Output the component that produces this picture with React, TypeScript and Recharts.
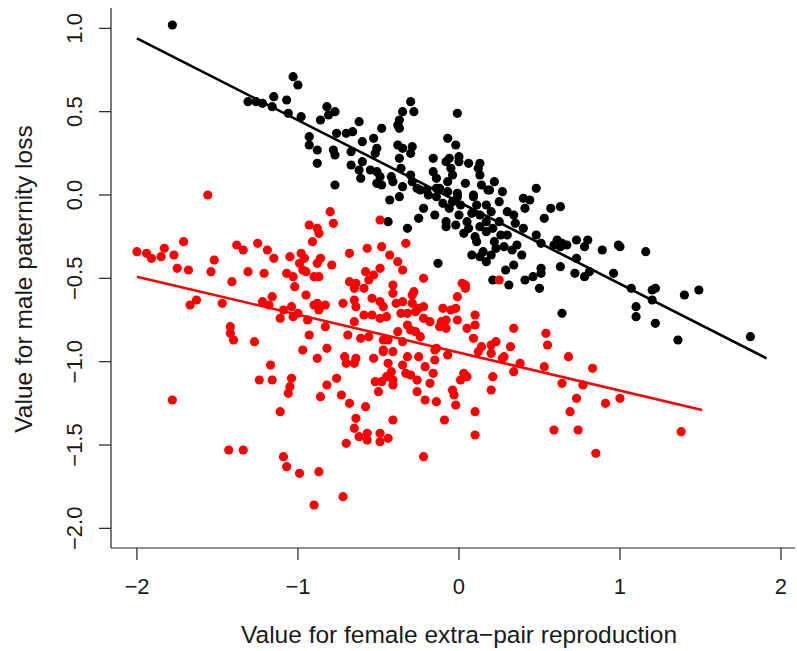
import React from "react";
import { ScatterChart, Scatter, XAxis, YAxis, ReferenceLine } from "recharts";

// [female extra-pair reproduction, male paternity loss]
const blackPoints: number[][] = [
  [-1.78, 1.02], [-1.03, 0.71], [-1.0, 0.66], [-1.31, 0.56], [-1.26, 0.56], [-1.22, 0.55], [-1.16, 0.53],
  [-1.15, 0.59], [-1.07, 0.57], [-1.06, 0.49], [-0.98, 0.47], [-0.82, 0.53], [-0.77, 0.5], [-0.81, 0.48],
  [-0.86, 0.45], [-0.76, 0.37], [-0.93, 0.35], [-0.93, 0.3], [-0.88, 0.27], [-0.78, 0.27], [-0.77, 0.24],
  [-0.88, 0.19], [-0.77, 0.06],
  [-0.3, 0.56], [-0.35, 0.5], [-0.28, 0.5], [-0.01, 0.49], [-0.62, 0.44], [-0.37, 0.45], [-0.38, 0.42],
  [-0.37, 0.4], [-0.48, 0.4], [-0.66, 0.38], [-0.53, 0.34], [-0.6, 0.32], [-0.7, 0.37], [-0.07, 0.34],
  [-0.02, 0.3], [-0.38, 0.3], [-0.35, 0.28], [-0.29, 0.29], [-0.3, 0.25], [-0.51, 0.28], [-0.52, 0.25],
  [-0.67, 0.26], [-0.67, 0.18], [-0.6, 0.2], [-0.62, 0.15], [-0.37, 0.22], [-0.36, 0.16], [-0.16, 0.22],
  [-0.08, 0.2], [-0.06, 0.22], [0.0, 0.23], [0.0, 0.2], [0.06, 0.19], [0.13, 0.19], [0.12, 0.16],
  [-0.05, 0.16], [-0.04, 0.12], [-0.16, 0.14], [-0.14, 0.1], [-0.07, 0.08], [0.04, 0.07], [0.13, 0.12],
  [0.14, 0.06], [0.22, 0.08], [0.19, 0.03], [0.27, 0.02], [0.48, 0.04], [-0.55, 0.15], [-0.51, 0.14],
  [-0.49, 0.11], [-0.61, 0.1], [-0.51, 0.07], [-0.48, 0.06], [-0.42, 0.11], [-0.41, 0.08], [-0.35, 0.05],
  [-0.3, 0.12], [-0.29, 0.08], [-0.26, 0.04], [-0.2, 0.03], [-0.14, 0.04], [-0.01, 0.01], [0.09, 0.0],
  [-0.43, -0.03], [-0.37, -0.01], [-0.44, -0.16], [-0.32, -0.2], [-0.25, -0.14], [-0.22, -0.08],
  [-0.24, 0.03], [-0.19, 0.0], [-0.14, -0.01], [-0.15, -0.12], [-0.08, -0.16], [-0.08, -0.19],
  [-0.02, -0.18], [-0.06, -0.08], [0.01, -0.06], [0.03, -0.23], [-0.01, -0.01], [-0.07, 0.02],
  [0.09, -0.01], [0.11, -0.06], [0.08, -0.11], [0.13, -0.12], [0.11, -0.28], [0.08, -0.36], [0.13, -0.37],
  [0.17, -0.4], [0.15, -0.34], [0.18, 0.03], [0.17, -0.06], [0.17, -0.16], [0.17, -0.22], [0.21, -0.2],
  [0.22, -0.28], [0.23, -0.32], [0.25, -0.04], [0.3, -0.1], [0.34, -0.12], [0.3, -0.24], [0.28, -0.31],
  [0.33, -0.33], [0.36, -0.3], [0.39, -0.36], [0.34, -0.42], [0.29, -0.45], [0.21, -0.51], [0.31, -0.54],
  [0.4, -0.02], [0.44, -0.03], [0.41, -0.08], [0.35, -0.17], [0.4, -0.2], [0.57, -0.08], [0.63, -0.07],
  [0.53, -0.14], [0.48, -0.24], [0.51, -0.29], [0.61, -0.27], [0.63, -0.31], [0.59, -0.3], [0.51, -0.44],
  [0.51, -0.47], [0.46, -0.49], [0.41, -0.51], [0.5, -0.56], [0.63, -0.43], [0.64, -0.71], [-0.13, -0.41],
  [-0.12, 0.04], [-0.04, -0.04], [0.13, -0.19], [0.05, -0.16], [0.0, -0.12], [0.06, -0.2], [-0.1, -0.05],
  [0.2, -0.1], [0.25, -0.16], [0.1, -0.25], [0.26, -0.24], [0.2, -0.36],
  [0.64, -0.29], [0.67, -0.3], [0.73, -0.27], [0.8, -0.27], [0.78, -0.31], [0.89, -0.33], [0.99, -0.3],
  [1.0, -0.31], [1.16, -0.34], [0.73, -0.38], [0.72, -0.47], [0.78, -0.49], [0.81, -0.46], [0.96, -0.47],
  [1.07, -0.56], [1.2, -0.57], [1.22, -0.56], [1.2, -0.63], [1.1, -0.67], [1.1, -0.73], [1.22, -0.77],
  [1.4, -0.6], [1.49, -0.57], [1.36, -0.87], [1.81, -0.85],
];

const redPoints: number[][] = [
  [-1.56, 0.0], [-2.0, -0.34], [-1.94, -0.35], [-1.91, -0.38], [-1.85, -0.37], [-1.83, -0.32], [-1.77, -0.36],
  [-1.71, -0.28], [-1.75, -0.44], [-1.68, -0.45], [-1.52, -0.39], [-1.54, -0.46], [-1.41, -0.52], [-1.38, -0.3],
  [-1.34, -0.33], [-1.31, -0.46], [-1.25, -0.29], [-1.19, -0.33], [-1.15, -0.38], [-1.21, -0.47], [-1.05, -0.37],
  [-1.07, -0.47], [-1.03, -0.49], [-1.02, -0.55], [-0.98, -0.35], [-0.96, -0.38], [-0.99, -0.41], [-0.97, -0.45],
  [-0.95, -0.46], [-0.93, -0.18], [-0.88, -0.2], [-0.87, -0.23], [-0.91, -0.28], [-0.8, -0.1], [-0.78, -0.17],
  [-0.86, -0.38], [-0.88, -0.41], [-0.79, -0.42], [-0.9, -0.49], [-0.87, -0.49], [-0.68, -0.35], [-0.68, -0.52],
  [-0.95, -0.6], [-1.16, -0.61], [-1.22, -0.64], [-1.18, -0.66], [-1.47, -0.65], [-1.67, -0.66], [-1.63, -0.63],
  [-1.09, -0.69], [-1.04, -0.67], [-1.11, -0.74], [-1.03, -0.73], [-1.0, -0.71], [-0.94, -0.75], [-0.9, -0.66],
  [-0.88, -0.65], [-0.87, -0.69], [-0.83, -0.66], [-0.72, -0.65], [-0.83, -0.79], [-0.93, -0.84], [-0.69, -0.84],
  [-1.42, -0.79], [-1.42, -0.83], [-1.4, -0.87], [-1.27, -0.88], [-0.97, -0.93], [-0.82, -0.92], [-0.88, -0.98],
  [-0.71, -0.97],
  [-1.78, -1.23], [-1.17, -1.02], [-1.24, -1.11], [-1.16, -1.11], [-1.04, -1.1], [-1.05, -1.15], [-1.06, -1.19],
  [-1.11, -1.3], [-0.7, -1.01], [-0.76, -1.1], [-0.82, -1.14], [-0.73, -1.2], [-0.86, -1.21], [-0.68, -1.25],
  [-0.7, -1.49], [-1.43, -1.53], [-1.34, -1.53], [-1.09, -1.57], [-1.07, -1.63], [-0.99, -1.67], [-0.87, -1.66],
  [-0.72, -1.81], [-0.9, -1.86],
  [-0.64, -0.98], [-0.65, -1.01], [-0.53, -0.98], [-0.47, -0.94], [-0.41, -0.94], [-0.44, -1.01], [-0.42, -1.06],
  [-0.45, -1.09], [-0.41, -1.11], [-0.41, -1.14], [-0.48, -1.12], [-0.52, -1.12], [-0.5, -1.18], [-0.58, -1.27],
  [-0.64, -1.34], [-0.65, -1.4], [-0.62, -1.45], [-0.57, -1.43], [-0.57, -1.47], [-0.49, -1.43], [-0.49, -1.48],
  [-0.44, -1.46], [-0.41, -1.35], [-0.22, -1.57], [-0.32, -0.97], [-0.35, -1.02], [-0.25, -0.97], [-0.15, -0.93],
  [-0.15, -0.99], [-0.07, -0.96], [-0.21, -1.03], [-0.16, -1.07], [-0.33, -1.07], [-0.3, -1.08], [-0.26, -1.11],
  [-0.18, -1.13], [-0.26, -1.18], [-0.21, -1.23], [-0.14, -1.24], [-0.04, -1.17], [-0.03, -1.2], [-0.02, -1.26],
  [0.01, -1.11], [0.03, -1.07], [0.05, -1.09], [-0.09, -1.35], [0.1, -1.3], [0.1, -1.44], [0.12, -0.94],
  [0.2, -0.95], [0.27, -0.98], [0.38, -1.01], [0.34, -1.06], [0.21, -1.09], [0.2, -1.17], [0.53, -1.03],
  [0.64, -1.13], [0.69, -1.3], [0.59, -1.41],
  [0.68, -0.97], [0.83, -1.04], [0.77, -1.14], [0.73, -1.22], [0.91, -1.25], [1.0, -1.22], [0.74, -1.41],
  [0.85, -1.55], [1.38, -1.42],
  [-0.49, -0.15], [0.25, -0.51], [-0.33, -0.29], [-0.57, -0.32], [-0.48, -0.31], [-0.43, -0.36], [-0.38, -0.4],
  [-0.35, -0.45], [-0.49, -0.44], [-0.53, -0.48], [-0.58, -0.46], [-0.56, -0.51], [-0.64, -0.53], [-0.65, -0.56],
  [-0.59, -0.56], [-0.41, -0.54], [-0.41, -0.59], [-0.22, -0.5], [0.02, -0.53], [0.04, -0.54], [0.04, -0.56],
  [-0.28, -0.58], [-0.29, -0.6], [-0.01, -0.61], [-0.65, -0.63], [-0.64, -0.67], [-0.54, -0.62], [-0.49, -0.64],
  [-0.47, -0.67], [-0.39, -0.65], [-0.35, -0.64], [-0.29, -0.65], [-0.22, -0.67], [-0.36, -0.71], [-0.32, -0.71],
  [-0.27, -0.7], [-0.25, -0.68], [-0.59, -0.72], [-0.54, -0.72], [-0.49, -0.74], [-0.45, -0.73], [-0.65, -0.76],
  [-0.61, -0.86], [-0.56, -0.85], [-0.47, -0.87], [-0.44, -0.87], [-0.38, -0.82], [-0.32, -0.78], [-0.3, -0.81],
  [-0.27, -0.82], [-0.22, -0.74], [-0.18, -0.76], [-0.11, -0.76], [-0.12, -0.79], [-0.08, -0.75], [-0.08, -0.8],
  [-0.1, -0.68], [-0.05, -0.69], [-0.02, -0.68], [-0.01, -0.75], [0.1, -0.72], [0.05, -0.8], [0.1, -0.78],
  [0.09, -0.86], [-0.35, -0.88], [-0.24, -0.85], [-0.14, -0.92], [0.14, -0.91], [0.2, -0.9], [0.23, -0.88],
  [0.32, -0.91], [0.34, -0.8], [0.54, -0.83], [0.55, -0.9], [-0.47, -0.93], [0.28, -0.97],
];

// fitted regression lines: [x, y] endpoints
const blackFit: number[][] = [[-2.0, 0.94], [1.91, -0.98]];
const redFit: number[][] = [[-2.0, -0.49], [1.51, -1.29]];

const xTicks = [-2, -1, 0, 1, 2];
const yTicks = [-2.0, -1.5, -1.0, -0.5, 0.0, 0.5, 1.0];
const xDomain = [-2.161, 2.087];
const yDomain = [-2.118, 1.122];

const FONT = "'Liberation Sans', Arial, Helvetica, sans-serif";
const minus = (s: string) => s.replace("-", "\u2212");

const toObj = (arr: number[][]) => arr.map(([x, y]) => ({ x, y }));

const XTick = (props: any) => {
  const { x, y, payload } = props;
  return (
    <text x={x} y={y + 32} textAnchor="middle" fontSize={22} fontFamily={FONT} fill="#1a1a1a">
      {minus(String(payload.value))}
    </text>
  );
};

const YTick = (props: any) => {
  const { x, y, payload } = props;
  const bx = x - 15;
  return (
    <text
      x={bx}
      y={y}
      transform={`rotate(-90 ${bx} ${y})`}
      textAnchor="middle"
      fontSize={22}
      fontFamily={FONT}
      fill="#1a1a1a"
    >
      {minus(Number(payload.value).toFixed(1))}
    </text>
  );
};

const dot = (color: string) => (p: any) => <circle cx={p.cx} cy={p.cy} r={4.6} fill={color} />;

export default function App() {
  return (
    <div style={{ position: "absolute", left: 0, top: 0, background: "#fff" }}>
      <ScatterChart width={797} height={651} margin={{ top: 8, right: 2, bottom: 0, left: 0 }}>
        <XAxis
          type="number"
          dataKey="x"
          domain={xDomain}
          ticks={xTicks}
          allowDataOverflow
          height={103}
          tickSize={12}
          tick={<XTick />}
          axisLine={{ stroke: "#222", strokeWidth: 1.2 }}
          tickLine={{ stroke: "#222", strokeWidth: 1.2 }}
          label={{
            content: () => (
              <text x={459} y={643} textAnchor="middle" fontSize={24.5} fontFamily={FONT} fill="#1a1a1a">
                {"Value for female extra\u2212pair reproduction"}
              </text>
            ),
          }}
        />
        <YAxis
          type="number"
          dataKey="y"
          domain={yDomain}
          ticks={yTicks}
          allowDataOverflow
          width={111}
          tickSize={12}
          tick={<YTick />}
          axisLine={{ stroke: "#222", strokeWidth: 1.2 }}
          tickLine={{ stroke: "#222", strokeWidth: 1.2 }}
          label={{
            content: () => (
              <text
                x={32}
                y={279}
                transform="rotate(-90 32 279)"
                textAnchor="middle"
                fontSize={24.5}
                fontFamily={FONT}
                fill="#1a1a1a"
              >
                Value for male paternity loss
              </text>
            ),
          }}
        />
        <Scatter data={toObj(blackPoints)} fill="#000" shape={dot("#000")} isAnimationActive={false} />
        <Scatter data={toObj(redPoints)} fill="#ff0000" shape={dot("#ff0000")} isAnimationActive={false} />
        <ReferenceLine
          segment={[{ x: blackFit[0][0], y: blackFit[0][1] }, { x: blackFit[1][0], y: blackFit[1][1] }]}
          stroke="#000"
          strokeWidth={2.6}
        />
        <ReferenceLine
          segment={[{ x: redFit[0][0], y: redFit[0][1] }, { x: redFit[1][0], y: redFit[1][1] }]}
          stroke="#ff0000"
          strokeWidth={2.6}
        />
      </ScatterChart>
    </div>
  );
}
